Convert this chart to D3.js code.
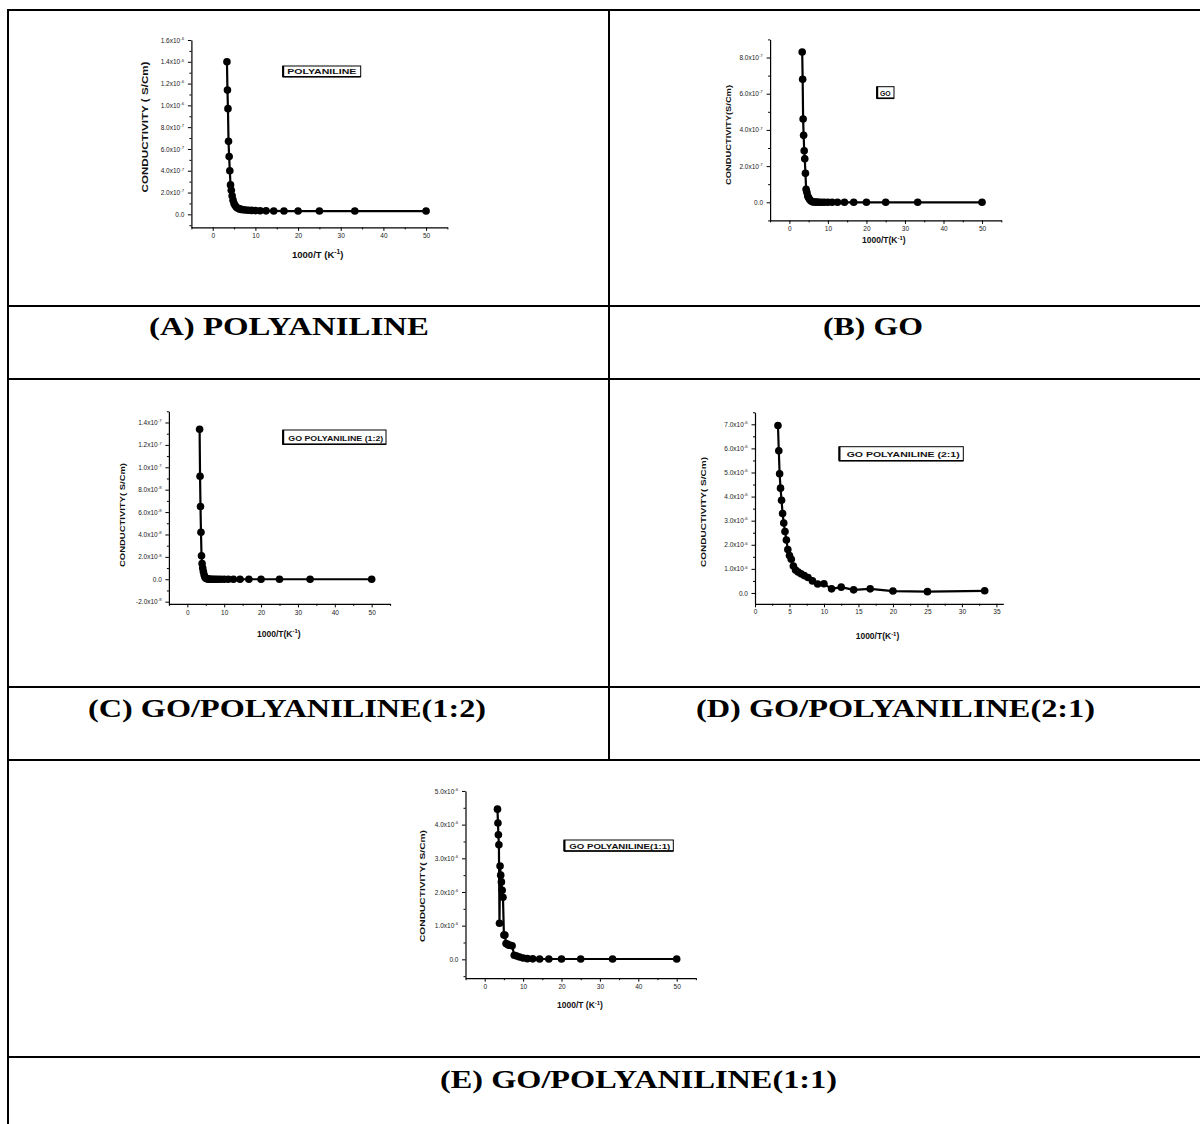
<!DOCTYPE html>
<html><head><meta charset="utf-8">
<script src="https://cdn.jsdelivr.net/npm/d3@7"></script>
<style>body{margin:0;background:#fff}svg{display:block}</style>
</head><body>
<script>
// ---------- DATA ----------
const invT = [3.33,3.45,3.57,3.70,3.85,4.00,4.17,4.35,4.55,4.76,5.00,5.26,5.56,5.88,6.25,6.67,7.14,7.69,8.33,9.09,10.0,11.1,12.5,14.3,16.7,20.0,25.0,33.3,50.0];
const invT_D = [3.33,3.45,3.57,3.70,3.85,4.00,4.17,4.35,4.55,4.76,5.00,5.26,5.56,5.88,6.25,6.67,7.14,7.69,8.33,9.09,10.0,11.1,12.5,14.3,16.7,20.0,25.0,33.3];

const sigmaA = [1.40e-6,1.14e-6,0.97e-6,0.67e-6,0.53e-6,0.40e-6,0.27e-6,0.22e-6,0.17e-6,0.13e-6,
                0.10e-6,0.08e-6,0.065e-6,0.055e-6,0.05e-6,0.045e-6,0.042e-6,0.040e-6,0.038e-6,0.036e-6,
                0.034e-6,0.033e-6,0.032e-6,0.031e-6,0.030e-6,0.030e-6,0.030e-6,0.030e-6,0.030e-6];
const sigmaB = [8.3e-7,6.8e-7,4.6e-7,3.7e-7,2.85e-7,2.4e-7,1.6e-7,0.72e-7,0.55e-7,0.35e-7,
                0.25e-7,0.15e-7,0.08e-7,0.04e-7,0.02e-7,0.01e-7,0.01e-7,0,0,0,
                0,0,0,0,0,0,0,0,0];
const sigmaC = [13.4e-8,9.2e-8,6.5e-8,4.2e-8,2.1e-8,1.4e-8,1.0e-8,0.7e-8,0.4e-8,0.2e-8,
                0.1e-8,0.05e-8,0.02e-8,0.01e-8,0,0,0,0,0,0,
                0,0,0,0,0,0,0,0,0];
const sigmaD = [6.95e-6,5.9e-6,4.95e-6,4.35e-6,3.85e-6,3.3e-6,2.9e-6,2.55e-6,2.2e-6,1.8e-6,
                1.55e-6,1.4e-6,1.12e-6,0.95e-6,0.87e-6,0.8e-6,0.72e-6,0.64e-6,0.5e-6,0.37e-6,
                0.38e-6,0.17e-6,0.24e-6,0.13e-6,0.17e-6,0.08e-6,0.055e-6,0.09e-6];
const sigmaE = [4.46e-6,4.05e-6,3.7e-6,3.4e-6,1.07e-6,2.77e-6,2.5e-6,2.3e-6,2.05e-6,1.84e-6,
                0.72e-6,0.72e-6,0.47e-6,0.45e-6,0.42e-6,0.42e-6,0.40e-6,0.12e-6,0.10e-6,0.07e-6,
                0.04e-6,0.02e-6,0.015e-6,0.01e-6,0.01e-6,0.01e-6,0.01e-6,0.01e-6,0.01e-6];

// tick values and labels
const xTicks50 = [0,10,20,30,40,50];
const xTicks35 = [0,5,10,15,20,25,30,35];
const yTicksA = [0,2e-7,4e-7,6e-7,8e-7,1.0e-6,1.2e-6,1.4e-6,1.6e-6];
const yMantA  = ["0.0","2.0","4.0","6.0","8.0","1.0","1.2","1.4","1.6"];
const yExpA   = [null,"-7","-7","-7","-7","-6","-6","-6","-6"];
const yTicksB = [0,2e-7,4e-7,6e-7,8e-7];
const yMantB  = ["0.0","2.0","4.0","6.0","8.0"];
const yExpB   = [null,"-7","-7","-7","-7"];
const yTicksC = [-2e-8,0,2e-8,4e-8,6e-8,8e-8,1.0e-7,1.2e-7,1.4e-7];
const yMantC  = ["-2.0","0.0","2.0","4.0","6.0","8.0","1.0","1.2","1.4"];
const yExpC   = ["-8",null,"-8","-8","-8","-8","-7","-7","-7"];
const yTicksD = [0,1e-6,2e-6,3e-6,4e-6,5e-6,6e-6,7e-6];
const yMantD  = ["0.0","1.0","2.0","3.0","4.0","5.0","6.0","7.0"];
const yExpD   = [null,"-6","-6","-6","-6","-6","-6","-6"];
const yTicksE = [0,1e-6,2e-6,3e-6,4e-6,5e-6];
const yMantE  = ["0.0","1.0","2.0","3.0","4.0","5.0"];
const yExpE   = [null,"-6","-6","-6","-6","-6"];

const legends = ["POLYANILINE","GO","GO POLYANILINE (1:2)","GO POLYANILINE (2:1)","GO POLYANILINE(1:1)"];
const yTitles = ["CONDUCTIVITY ( S/Cm)","CONDUCTIVITY(S/Cm)","CONDUCTIVITY( S/Cm)","CONDUCTIVITY( S/Cm)","CONDUCTIVITY( S/Cm)"];
const xTitles = ["1000/T (K","1000/T(K","1000/T(K","1000/T(K","1000/T (K"];
const captions = ["(A) POLYANILINE","(B) GO","(C) GO/POLYANILINE(1:2)","(D) GO/POLYANILINE(2:1)","(E) GO/POLYANILINE(1:1)"];

// ---------- LAYOUT ----------
const W = 1200, H = 1124;
const svg = d3.select("body").append("svg").attr("width",W).attr("height",H);

// table grid
const gridH = [{y:10,x1:7,x2:1200},{y:306,x1:7,x2:1200},{y:379,x1:7,x2:1200},{y:687,x1:7,x2:1200},{y:760,x1:7,x2:1200},{y:1057,x1:7,x2:1200}];
const gridV = [{x:8,y1:9,y2:1124},{x:609,y1:10,y2:760}];
svg.selectAll("line.gh").data(gridH).enter().append("line")
  .attr("x1",d=>d.x1).attr("x2",d=>d.x2).attr("y1",d=>d.y).attr("y2",d=>d.y)
  .attr("stroke","#000").attr("stroke-width",2);
svg.selectAll("line.gv").data(gridV).enter().append("line")
  .attr("x1",d=>d.x).attr("x2",d=>d.x).attr("y1",d=>d.y1).attr("y2",d=>d.y2)
  .attr("stroke","#000").attr("stroke-width",2);

// captions
const capPos = [{x:149,y:335,len:280},{x:823,y:335,len:100},{x:88,y:717,len:398},{x:696,y:717,len:399},{x:440,y:1088,len:397}];
captions.forEach((c,i)=>{
  svg.append("text").attr("x",capPos[i].x).attr("y",capPos[i].y)
    .attr("font-family","'Liberation Serif','Times New Roman',serif").attr("font-weight","bold")
    .attr("font-size",25).attr("textLength",capPos[i].len).attr("lengthAdjust","spacingAndGlyphs")
    .attr("fill","#000").text(c);
});

const panels = [
  {xs:invT, ys:sigmaA, xd:[-5,55], xr:[191.4,447.4], yd:[-1.2e-7,1.6e-6], yr:[227.4,40],
   xt:xTicks50, xm:d3.range(-5,56,10), yt:yTicksA, ym:yMantA, ye:yExpA, yminor:d3.range(-1,16,2).map(v=>v*1e-7),
   leg:{x:282.7,y:66,w:78,h:10.7,tx:287.3,ty:74.3,tl:69,fs:8},
   yl:{x:148,y:127,len:131,fs:9.5}, xl:{x:292,y:257.7,len:57,fs:9.5}},
  {xs:invT, ys:sigmaB, xd:[-5,55], xr:[770.1,1001.3], yd:[-1e-7,9e-7], yr:[220.4,39.4],
   xt:xTicks50, xm:d3.range(-5,56,10), yt:yTicksB, ym:yMantB, ye:yExpB, yminor:d3.range(-1,10,2).map(v=>v*1e-7),
   leg:{x:876.7,y:86.7,w:17.3,h:11.6,tx:880,ty:95.8,tl:10.7,fs:7.5},
   yl:{x:731,y:135,len:100,fs:8}, xl:{x:862,y:243.3,len:48,fs:8.5}},
  {xs:invT, ys:sigmaC, xd:[-5,55], xr:[168.9,390.1], yd:[-2.2e-8,1.5e-7], yr:[603.9,411.3],
   xt:xTicks50, xm:d3.range(-5,56,10), yt:yTicksC, ym:yMantC, ye:yExpC, yminor:d3.range(-1,16,2).map(v=>v*1e-8),
   leg:{x:282.7,y:430,w:103.3,h:14.3,tx:288.3,ty:440.8,tl:95,fs:7.5},
   yl:{x:125,y:515,len:104,fs:8}, xl:{x:257,y:636.7,len:47,fs:8.5}},
  {xs:invT_D, ys:sigmaD, xd:[0,36], xr:[755,1003.3], yd:[-0.45e-6,7.5e-6], yr:[603.8,412.25],
   xt:xTicks35, xm:d3.range(2.5,36,5), yt:yTicksD, ym:yMantD, ye:yExpD, yminor:d3.range(0.5,7.6,1).map(v=>v*1e-6),
   leg:{x:839,y:446.7,w:124.3,h:14,tx:846.7,ty:457.3,tl:113,fs:7.5},
   yl:{x:706,y:512,len:110,fs:8}, xl:{x:855.7,y:639.3,len:56,fs:8.5}},
  {xs:invT, ys:sigmaE, xd:[-5,55], xr:[465.5,695.9], yd:[-0.56e-6,5e-6], yr:[978.2,790.95],
   xt:xTicks50, xm:d3.range(-5,56,10), yt:yTicksE, ym:yMantE, ye:yExpE, yminor:d3.range(-0.5,4.6,1).map(v=>v*1e-6),
   leg:{x:564,y:840,w:109.3,h:11,tx:569.3,ty:848.8,tl:101,fs:7.5},
   yl:{x:425,y:886,len:112,fs:8}, xl:{x:557,y:1008.3,len:50,fs:8.5}}
];

const SANS = "'Liberation Sans',Arial,sans-serif";

panels.forEach((p,pi)=>{
  const g = svg.append("g");
  const x = d3.scaleLinear().domain(p.xd).range(p.xr);
  const y = d3.scaleLinear().domain(p.yd).range(p.yr);

  // axes
  const xAxis = g.append("g").attr("transform",`translate(0,${p.yr[0]})`)
    .call(d3.axisBottom(x).tickValues(p.xt).tickSize(3.5).tickSizeOuter(0).tickPadding(2.5).tickFormat(d3.format("d")));
  g.append("g").attr("transform",`translate(0,${p.yr[0]})`)
    .call(d3.axisBottom(x).tickValues(p.xm).tickSize(2).tickSizeOuter(0).tickFormat(""))
    .select(".domain").remove();
  const yAxis = g.append("g").attr("transform",`translate(${p.xr[0]},0)`)
    .call(d3.axisLeft(y).tickValues(p.yt).tickSize(3.5).tickSizeOuter(0).tickPadding(3.5).tickFormat(""));
  g.append("g").attr("transform",`translate(${p.xr[0]},0)`)
    .call(d3.axisLeft(y).tickValues(p.yminor).tickSize(2).tickSizeOuter(0).tickFormat(""))
    .select(".domain").remove();
  g.selectAll(".domain").attr("stroke","#000").attr("stroke-width",1.2);
  g.selectAll(".tick line").attr("stroke","#000").attr("stroke-width",1);
  xAxis.selectAll(".tick text").attr("font-family",SANS).attr("font-size",6.5).attr("fill","#222");
  yAxis.selectAll(".tick text").each(function(d,i){
    const t = d3.select(this).attr("font-family",SANS).attr("font-size",6.5).attr("fill","#222");
    t.text(null);
    if (p.ye[i]) {
      t.append("tspan").text(p.ym[i] + "x10");
      t.append("tspan").attr("dy",-2.8).attr("font-size",4.3).text(p.ye[i]);
      t.append("tspan").attr("dy",2.8).attr("font-size",4).text("\u200a");
    } else {
      t.append("tspan").text(p.ym[i]);
    }
  });

  // line + markers
  const pts = p.xs.map((v,i)=>[v,p.ys[i]]);
  g.append("path").datum(pts).attr("fill","none").attr("stroke","#000").attr("stroke-width",2.2)
    .attr("stroke-linejoin","round")
    .attr("d",d3.line().x(d=>x(d[0])).y(d=>y(d[1])));
  g.selectAll("circle.m").data(pts).enter().append("circle")
    .attr("cx",d=>x(d[0])).attr("cy",d=>y(d[1])).attr("r",3.8).attr("fill","#000");

  // legend box
  const L = p.leg;
  g.append("rect").attr("x",L.x).attr("y",L.y).attr("width",L.w).attr("height",L.h)
    .attr("fill","#fff").attr("stroke","#000").attr("stroke-width",1);
  g.append("line").attr("x1",L.x+0.5).attr("x2",L.x+0.5).attr("y1",L.y).attr("y2",L.y+L.h)
    .attr("stroke","#000").attr("stroke-width",2);
  g.append("line").attr("x1",L.x).attr("x2",L.x+L.w).attr("y1",L.y+L.h).attr("y2",L.y+L.h)
    .attr("stroke","#000").attr("stroke-width",1.6);
  g.append("text").attr("x",L.tx).attr("y",L.ty).attr("font-family",SANS).attr("font-weight","bold")
    .attr("font-size",L.fs).attr("textLength",L.tl).attr("lengthAdjust","spacingAndGlyphs")
    .attr("fill","#111").text(legends[pi]);

  // y title
  g.append("text").attr("transform",`translate(${p.yl.x},${p.yl.y}) rotate(-90)`)
    .attr("text-anchor","middle").attr("font-family",SANS).attr("font-weight","bold")
    .attr("font-size",p.yl.fs).attr("textLength",p.yl.len).attr("lengthAdjust","spacingAndGlyphs")
    .attr("fill","#111").text(yTitles[pi]);

  // x title with superscript
  const xt = g.append("text").attr("x",p.xl.x).attr("y",p.xl.y).attr("font-family",SANS).attr("font-weight","bold")
    .attr("font-size",p.xl.fs).attr("fill","#111");
  xt.append("tspan").text(xTitles[pi]);
  xt.append("tspan").attr("dy",-3.5).attr("font-size",p.xl.fs*0.7).text("-1");
  xt.append("tspan").attr("dy",3.5).text(")");
});
</script>
</body></html>
